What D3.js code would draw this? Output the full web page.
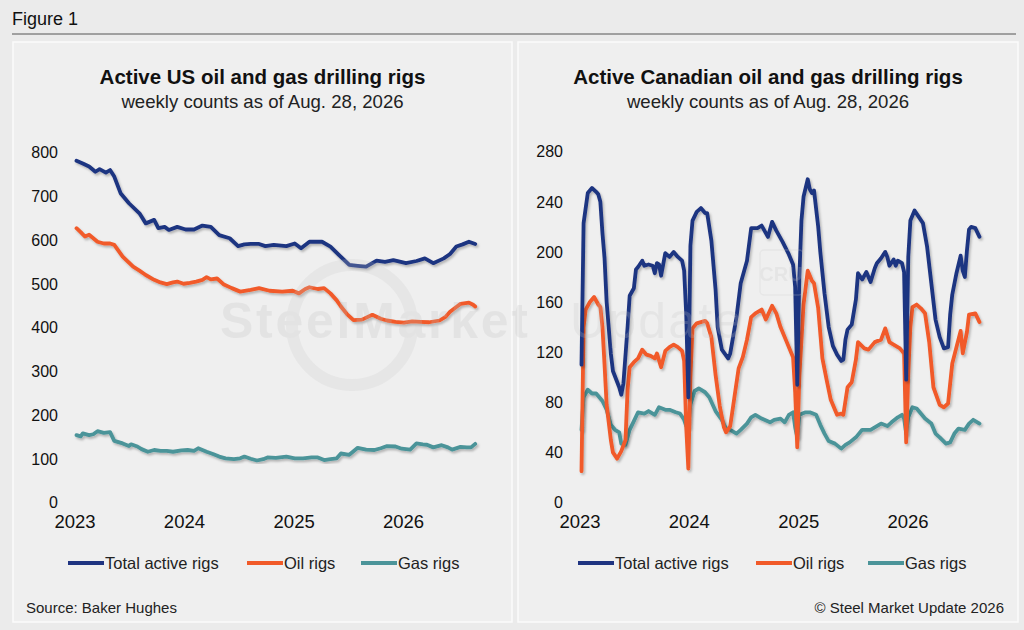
<!DOCTYPE html>
<html>
<head>
<meta charset="utf-8">
<script src="https://cdn.jsdelivr.net/npm/d3@7"></script>
<style>
  body { margin: 0; background: #ebebeb; }
  svg { display: block; font-family: "Helvetica Neue", Helvetica, Arial, "Liberation Sans", sans-serif; }
</style>
</head>
<body>
<svg id="svg" width="1024" height="630"></svg>
<script>
// data: week index counted from Jan 6, 2023 (weekly Friday counts)
const years = [2023, 2024, 2025, 2026];
const usTicks = [0, 100, 200, 300, 400, 500, 600, 700, 800];
const caTicks = [0, 40, 80, 120, 160, 200, 240, 280];
const seriesNames = ['Total active rigs', 'Oil rigs', 'Gas rigs'];
const seriesColors = ['#1f3481', '#f15a29', '#4b9499'];

const usTotalWeeks = [0,3,6,9,11,14,16,18,21,25,30,33,35,37,39,42,44,48,52,56,60,64,68,73,77,80,83,87,90,94,100,104,107,111,117,121,125,130,134,138,143,147,151,157,162,166,170,175,178,181,184,187,190];
const usTotal = [781,775,768,756,762,754,760,745,707,684,661,638,642,646,627,630,623,630,624,624,633,630,611,604,586,590,591,591,586,589,586,592,581,596,596,585,566,543,541,539,553,550,554,547,552,558,547,558,568,585,590,596,591];

const usOilWeeks = [0,2,4,6,10,13,16,18,22,27,30,33,37,40,43,46,48,51,54,57,60,62,64,67,70,74,78,83,87,92,98,103,106,109,111,115,118,121,124,126,129,132,136,141,145,148,152,156,160,164,168,173,176,178,181,183,187,189,190];
const usOil = [627,618,608,612,596,592,592,589,562,539,530,520,509,503,499,503,505,500,502,505,509,515,510,512,499,490,482,486,490,484,482,484,478,488,492,488,490,478,462,448,430,417,418,429,420,416,413,411,414,413,412,416,425,436,447,454,457,452,448];

const usGasWeeks = [0,2,3,6,8,10,13,16,18,22,25,26,29,31,34,37,40,43,46,50,53,56,58,62,65,68,71,75,78,80,83,86,89,91,95,100,104,108,112,115,118,121,124,126,130,134,138,142,145,148,152,155,159,162,165,167,170,174,177,179,183,186,188,190];
const usGas = [154,151,158,154,156,163,159,161,141,135,129,133,128,122,116,120,118,118,116,119,120,118,124,116,111,105,101,99,101,105,100,96,99,103,102,105,101,101,103,103,97,99,101,112,109,125,121,120,124,129,128,123,121,135,133,132,126,131,126,121,127,126,126,134];

const caTotalWeeks = [0,1,3,5,7,8,9,10,11,12,14,15,18,19,20,22,23,25,26,27,29,30,32,34,35,36,37,38,39,40,42,44,46,48,49,50,51,52,53,55,57,59,60,62,64,65,67,70,71,74,76,79,81,84,86,88,89,91,93,96,99,101,102,103,104,105,106,108,109,110,111,113,114,116,118,120,122,124,125,126,127,129,131,132,134,136,138,140,141,143,145,146,147,149,150,151,153,154,155,156,157,159,161,163,165,167,169,171,173,175,176,177,179,181,182,183,184,185,186,188,190];
const caTotal = [110,223,247,251,248,246,240,215,195,160,119,105,92,86,95,140,165,171,186,188,193,189,190,189,183,191,190,181,190,199,196,200,196,193,185,150,84,205,225,232,235,231,231,209,170,140,122,115,119,148,175,193,219,219,221,215,212,224,217,208,198,190,172,94,180,225,244,258,250,247,249,220,200,167,140,125,118,113,114,130,138,142,162,183,178,184,176,187,191,195,200,196,189,194,189,193,191,184,98,196,225,233,228,223,204,175,146,132,123,124,150,166,183,197,185,180,201,218,220,219,212];

const caOilWeeks = [0,1,2,4,6,8,9,10,11,12,14,15,17,19,21,22,23,25,27,29,31,33,35,36,38,40,42,44,46,48,49,50,51,52,53,55,57,59,60,62,64,66,68,69,71,73,75,77,79,81,83,86,88,91,93,95,98,101,102,103,104,106,108,110,111,113,115,117,119,122,124,125,127,129,131,132,135,137,140,143,145,147,149,152,154,155,156,157,158,160,162,164,166,168,171,173,175,177,179,181,182,184,185,188,190];
const caOil = [25,140,154,160,164,158,156,140,110,78,50,40,35,41,50,90,108,112,115,122,118,117,115,119,108,121,124,126,124,121,113,60,27,100,139,143,144,145,143,132,102,77,60,56,61,84,107,116,130,148,151,154,146,157,151,140,128,116,88,44,100,158,185,177,175,155,115,98,82,70,71,70,92,96,114,128,123,122,128,130,139,128,126,123,119,48,103,140,156,158,155,151,128,92,78,76,79,111,124,137,119,136,150,151,144];

const caGasWeeks = [0,1,3,5,7,10,12,14,16,18,19,21,23,25,27,30,32,35,37,40,42,45,47,49,50,51,52,54,56,59,61,64,67,69,71,74,76,79,81,83,86,90,92,95,97,99,101,102,103,104,107,109,112,114,116,118,121,124,126,128,131,134,138,141,143,146,148,151,153,154,155,156,158,160,162,164,167,169,171,174,176,178,180,183,185,187,190];
const caGas = [58,84,90,87,87,81,74,62,58,56,47,46,58,65,72,71,73,70,76,74,74,72,71,66,61,60,78,89,91,88,84,73,66,59,58,55,58,63,68,70,67,64,66,67,64,70,72,60,52,70,72,72,70,62,55,49,47,43,46,48,52,58,58,61,63,61,64,68,70,67,55,68,76,75,71,67,63,55,52,47,48,55,59,58,63,66,63];

const weekDate = w => new Date(2023, 0, 6 + 7 * w);
const pts = (weeks, vals) => weeks.map((w, i) => ({ date: weekDate(w), value: vals[i] }));

const svg = d3.select('#svg');

// drop shadow like the original lines
const defs = svg.append('defs');
const f = defs.append('filter').attr('id', 'shadow').attr('x', '-5%').attr('y', '-5%').attr('width', '110%').attr('height', '115%');
f.append('feDropShadow').attr('dx', 1.5).attr('dy', 2).attr('stdDeviation', 1.2).attr('flood-color', '#000').attr('flood-opacity', 0.25);

// header
svg.append('text').attr('x', 12).attr('y', 25).attr('font-size', 18).attr('fill', '#111').text('Figure 1');
svg.append('line').attr('x1', 12).attr('x2', 1016).attr('y1', 34).attr('y2', 34).attr('stroke', '#555').attr('stroke-width', 1);

const panels = [
  { x0: 13, x1: 512, title: 'Active US oil and gas drilling rigs', xr: [75, 513], yr: [502.5, 152.5], ymax: 800, ticks: usTicks, labelX: 58,
    series: [pts(usTotalWeeks, usTotal), pts(usOilWeeks, usOil), pts(usGasWeeks, usGas)],
    legend: [68, 247, 361] },
  { x0: 518, x1: 1018, title: 'Active Canadian oil and gas drilling rigs', xr: [580, 1017.2], yr: [502.5, 151.7], ymax: 280, ticks: caTicks, labelX: 563,
    series: [pts(caTotalWeeks, caTotal), pts(caOilWeeks, caOil), pts(caGasWeeks, caGas)],
    legend: [578, 756, 868] }
];

panels.forEach(p => {
  svg.append('rect').attr('x', p.x0).attr('y', 42).attr('width', p.x1 - p.x0).attr('height', 580)
    .attr('fill', '#efefef').attr('stroke', '#fbfbfb').attr('stroke-width', 1.5);
});

panels.forEach(p => {
  const cx = (p.x0 + p.x1) / 2;
  const g = svg.append('g');
  g.append('text').attr('x', cx).attr('y', 84).attr('text-anchor', 'middle')
    .attr('font-size', 20.5).attr('font-weight', 'bold').attr('fill', '#111').text(p.title);
  g.append('text').attr('x', cx).attr('y', 108).attr('text-anchor', 'middle')
    .attr('font-size', 18.6).attr('fill', '#222').text('weekly counts as of Aug. 28, 2026');

  const x = d3.scaleTime().domain([new Date(2023, 0, 1), new Date(2027, 0, 1)]).range(p.xr);
  const y = d3.scaleLinear().domain([0, p.ymax]).range(p.yr);

  // y labels (no axis line)
  g.selectAll('.ytick').data(p.ticks).enter().append('text')
    .attr('x', p.labelX).attr('y', d => y(d)).attr('dy', '0.36em')
    .attr('text-anchor', 'end').attr('font-size', 16).attr('fill', '#111').text(d => d);

  // x labels
  g.selectAll('.xtick').data(years).enter().append('text')
    .attr('x', d => x(new Date(d, 0, 1))).attr('y', 528).attr('text-anchor', 'middle')
    .attr('font-size', 18.5).attr('fill', '#111').text(d => d);

  const line = d3.line().x(d => x(d.date)).y(d => y(d.value));
  // draw gas first, then oil, then total on top
  [2, 1, 0].forEach(i => {
    g.append('path').datum(p.series[i]).attr('d', line)
      .attr('fill', 'none').attr('stroke', seriesColors[i]).attr('stroke-width', 3.8)
      .attr('stroke-linejoin', 'round').attr('stroke-linecap', 'round')
      .attr('filter', 'url(#shadow)');
  });

  // legend
  seriesNames.forEach((name, i) => {
    const lx = p.legend[i];
    g.append('line').attr('x1', lx).attr('x2', lx + 36).attr('y1', 563).attr('y2', 563)
      .attr('stroke', seriesColors[i]).attr('stroke-width', 4);
    g.append('text').attr('x', lx + 37).attr('y', 563).attr('dy', '0.36em')
      .attr('font-size', 16.5).attr('fill', '#222').text(name);
  });
});

// faint watermark over the lines
const wm = svg.append('g').attr('opacity', 0.22).attr('pointer-events', 'none');
wm.append('circle').attr('cx', 352).attr('cy', 325).attr('r', 60).attr('fill', 'none').attr('stroke', '#c8c8c8').attr('stroke-width', 12);
wm.append('text').attr('x', 220).attr('y', 338).attr('font-size', 50).attr('font-weight', 'bold')
  .attr('fill', '#bdbdbd').attr('textLength', 308).text('SteelMarket');
wm.append('text').attr('x', 570).attr('y', 338).attr('font-size', 50).attr('font-weight', '300')
  .attr('fill', '#c4c4c4').attr('textLength', 172).text('Update');
wm.append('rect').attr('x', 760).attr('y', 250).attr('width', 43).attr('height', 45).attr('rx', 4)
  .attr('fill', 'none').attr('stroke', '#c8c8c8').attr('stroke-width', 1.5);
wm.append('text').attr('x', 781).attr('y', 281).attr('text-anchor', 'middle').attr('font-size', 20)
  .attr('font-weight', 'bold').attr('fill', '#c4c4c4').text('CRU');

// footer
svg.append('text').attr('x', 26).attr('y', 613).attr('font-size', 15).attr('fill', '#222').text('Source: Baker Hughes');
svg.append('text').attr('x', 1004).attr('y', 613).attr('text-anchor', 'end').attr('font-size', 15).attr('fill', '#222').text('© Steel Market Update 2026');
</script>
</body>
</html>
